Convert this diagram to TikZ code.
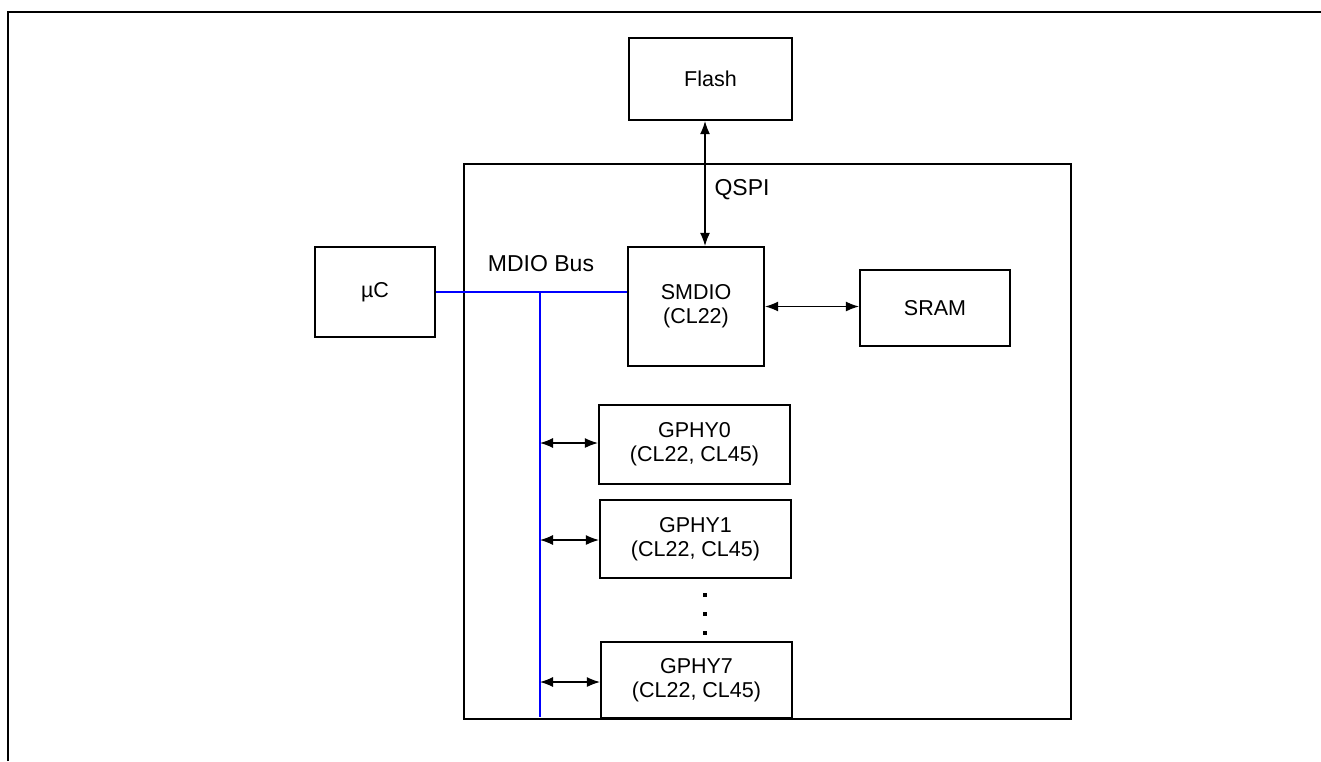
\documentclass[tikz,border=0pt]{standalone}
\usepackage{fontspec}
\setmainfont{Liberation Sans}
\usetikzlibrary{arrows.meta}
\begin{document}
\begin{tikzpicture}[x=1pt,y=-1pt,
  blk/.style={draw=black, line width=2.3pt, fill=white, align=center, inner sep=0pt,
    font=\fontsize{21.5}{24}\selectfont},
  lbl/.style={font=\fontsize{23}{26}\selectfont, inner sep=0pt},
  bus/.style={draw=blue, line width=2.3pt},
  biarrow/.style={line width=1.1pt, {Latex[length=13pt,width=10pt]}-{Latex[length=13pt,width=10pt]}},
  dot/.style={fill=black, minimum size=4pt, inner sep=0pt}]
\useasboundingbox (0,0) rectangle (1321,761);
% frame
\draw[line width=2.3pt] (8,761) -- (8,12) -- (1321,12);
% outer chip
\node[draw=black, line width=2.3pt, minimum width=607, minimum height=555, inner sep=0pt] (chip) at (767.5,441.5) {};
% blocks
\node[blk, minimum width=163, minimum height=82] (flash) at (710.5,79) {Flash};
\node[blk, minimum width=120, minimum height=90] (uc) at (375,292) {µC};
\node[blk, minimum width=136, minimum height=119] (smdio) at (696,306.5) {SMDIO\\(CL22)};
\node[blk, minimum width=150, minimum height=76] (sram) at (935,308) {SRAM};
\node[blk, minimum width=191, minimum height=79] (g0) at (694.5,444.5) {GPHY0\\(CL22, CL45)};
\node[blk, minimum width=191, minimum height=78] (g1) at (695.5,539) {GPHY1\\(CL22, CL45)};
\node[blk, minimum width=191, minimum height=76] (g7) at (696.5,680) {GPHY7\\(CL22, CL45)};
% labels
\node[lbl] (mdiolbl) at (541,264) {MDIO Bus};
\node[lbl] (qspilbl) at (742,190) {QSPI};
% dots
\node[dot] (d1) at (705,595) {};
\node[dot] (d2) at (705,614) {};
\node[dot] (d3) at (705,633) {};
% QSPI link
\coordinate (qx) at (705,0);
\draw[biarrow] (flash.south -| qx) -- (smdio.north -| qx);
% SMDIO - SRAM
\draw[biarrow] (smdio.east) -- (sram.west |- smdio.east);
% MDIO bus
\draw[bus] (uc.east) -- (smdio.west |- uc.east);
\coordinate (bt) at (540,292);
\coordinate (bb) at (540,717);
\draw[bus] (bt) -- (bb);
\coordinate (b0) at (540,443);
\coordinate (b1) at (540,540);
\coordinate (b7) at (540,682);
\draw[biarrow] (b0) -- (b0 -| g0.west);
\draw[biarrow] (b1) -- (b1 -| g1.west);
\draw[biarrow] (b7) -- (b7 -| g7.west);
\end{tikzpicture}
\end{document}
